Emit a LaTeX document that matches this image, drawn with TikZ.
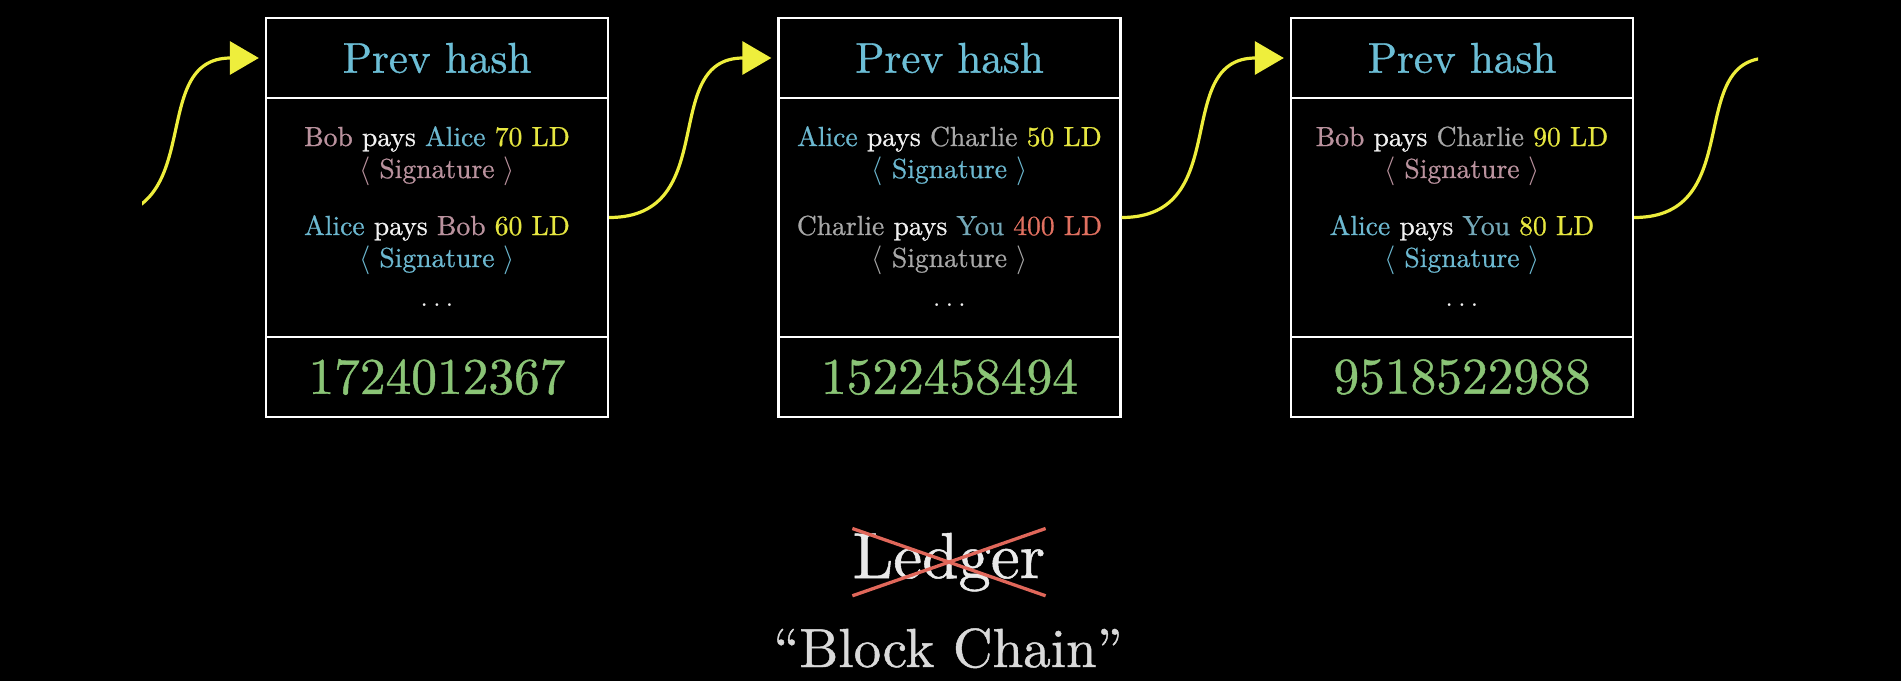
\documentclass[tikz,border=0pt]{standalone}
\usepackage{fontspec}
\setmainfont{lmroman10-regular.otf}[FakeBold=0.8]
\usetikzlibrary{arrows.meta}

\definecolor{hashblue}{HTML}{6CBED6}
\definecolor{hashgreen}{HTML}{8AC476}
\definecolor{linkyellow}{HTML}{EEEE3C}
\definecolor{bobc}{HTML}{BA929E}
\definecolor{alicec}{HTML}{6CB8D0}
\definecolor{charliec}{HTML}{A8A8A8}
\definecolor{youc}{HTML}{74A8B8}
\definecolor{amountc}{HTML}{E6E640}
\definecolor{bigamount}{HTML}{E07060}
\definecolor{paysc}{HTML}{F2F2F2}
\definecolor{crossc}{HTML}{E0675A}
\definecolor{ledgerc}{HTML}{EAEAEA}
\definecolor{chainc}{HTML}{DADADA}

% one transaction line: payer, payee, amount (with colours)
\newcommand{\payment}[6]{\textcolor{#1}{#2} \textcolor{paysc}{pays} \textcolor{#3}{#4} \textcolor{#5}{#6}}

\tikzset{
  blockpart/.style={draw=white, line width=1.15pt, minimum width=171pt, inner sep=0pt},
  headpart/.style={blockpart, minimum height=40pt, text=hashblue, font=\fontsize{21.5}{25}\selectfont},
  bodypart/.style={blockpart, minimum height=119.5pt},
  footpart/.style={blockpart, minimum height=40pt, text=hashgreen, font=\fontsize{25.7}{30}\selectfont},
  txtext/.style={anchor=base, inner sep=0pt, font=\fontsize{13.8}{16}\selectfont},
  chainlink/.style={draw=linkyellow, line width=1.6pt,
    -{Triangle[length=14.5pt,width=16.5pt]}, shorten >=3pt},
  crossline/.style={draw=crossc, line width=1.65pt},
}

\begin{document}
\begin{tikzpicture}[x=0.5pt, y=-0.5pt]
  \fill[black] (0,0) rectangle (1901,681);
  \useasboundingbox (0,0) rectangle (1901,681);

  % block 1
  \node[headpart] (b1head) at (437,58) {Prev hash};
  \node[bodypart] (b1body) at (437,217.5) {};
  \node[footpart] (b1foot) at (437,377) {1724012367};
  \node[txtext] (b1t1) at (437,146) {\payment{bobc}{Bob}{alicec}{Alice}{amountc}{70 LD}};
  \node[txtext, text=bobc] (b1s1) at (437,178) {$\langle$ Signature $\rangle$};
  \node[txtext] (b1t2) at (437,235) {\payment{alicec}{Alice}{bobc}{Bob}{amountc}{60 LD}};
  \node[txtext, text=alicec] (b1s2) at (437,267) {$\langle$ Signature $\rangle$};
  \node[txtext, text=paysc] (b1dots) at (437,306) {$\ldots$};

  % block 2
  \node[headpart] (b2head) at (949.5,58) {Prev hash};
  \node[bodypart] (b2body) at (949.5,217.5) {};
  \node[footpart] (b2foot) at (949.5,377) {1522458494};
  \node[txtext] (b2t1) at (949.5,146) {\payment{alicec}{Alice}{charliec}{Charlie}{amountc}{50 LD}};
  \node[txtext, text=alicec] (b2s1) at (949.5,178) {$\langle$ Signature $\rangle$};
  \node[txtext] (b2t2) at (949.5,235) {\payment{charliec}{Charlie}{youc}{You}{bigamount}{400 LD}};
  \node[txtext, text=charliec] (b2s2) at (949.5,267) {$\langle$ Signature $\rangle$};
  \node[txtext, text=paysc] (b2dots) at (949.5,306) {$\ldots$};

  % block 3
  \node[headpart] (b3head) at (1462,58) {Prev hash};
  \node[bodypart] (b3body) at (1462,217.5) {};
  \node[footpart] (b3foot) at (1462,377) {9518522988};
  \node[txtext] (b3t1) at (1462,146) {\payment{bobc}{Bob}{charliec}{Charlie}{amountc}{90 LD}};
  \node[txtext, text=bobc] (b3s1) at (1462,178) {$\langle$ Signature $\rangle$};
  \node[txtext] (b3t2) at (1462,235) {\payment{alicec}{Alice}{youc}{You}{amountc}{80 LD}};
  \node[txtext, text=alicec] (b3s2) at (1462,267) {$\langle$ Signature $\rangle$};
  \node[txtext, text=paysc] (b3dots) at (1462,306) {$\ldots$};

  % links between the blocks, the outer ones running off the visible strip
  \coordinate (prevblock) at (96,217.5);
  \coordinate (nextblock) at (1803,58);
  \begin{scope}
    \clip (142,0) rectangle (1758,681);
    \draw[chainlink] (prevblock) .. controls +(113,0) and +(-119,0) .. (b1head.west);
    \draw[chainlink] (b1body.east) .. controls +(113,0) and +(-119,0) .. (b2head.west);
    \draw[chainlink] (b2body.east) .. controls +(113,0) and +(-119,0) .. (b3head.west);
    \draw[chainlink] (b3body.east) .. controls +(113,0) and +(-119,0) .. (nextblock);
  \end{scope}

  % renaming: the ledger becomes a block chain
  \node[anchor=base, inner xsep=0pt, inner ysep=2pt, text=ledgerc,
        font=\fontsize{32.5}{38}\selectfont] (ledger) at (949,578) {Ledger};
  \draw[crossline] (ledger.north west) -- (ledger.south east);
  \draw[crossline] (ledger.south west) -- (ledger.north east);
  \node[anchor=base, inner sep=0pt, text=chainc,
        font=\fontsize{27.5}{33}\selectfont] (blockchain) at (948,667) {``Block Chain''};
\end{tikzpicture}
\end{document}
